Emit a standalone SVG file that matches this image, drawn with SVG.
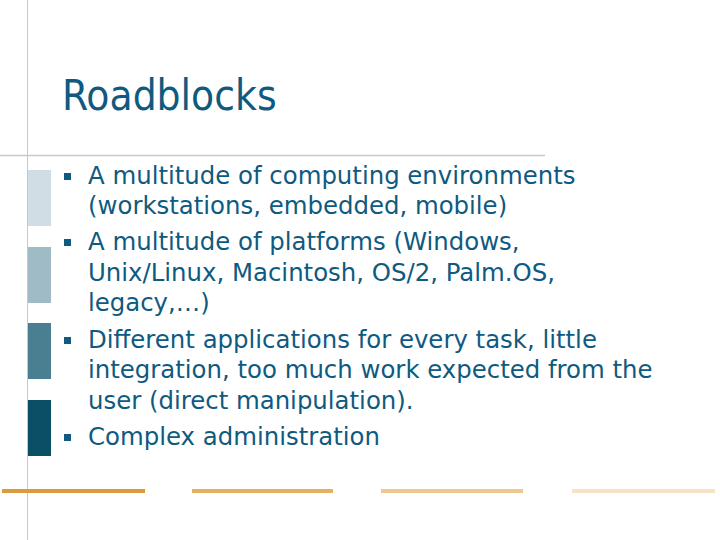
<svg xmlns="http://www.w3.org/2000/svg" width="720" height="540" viewBox="0 0 720 540">
<style>
.t{font-family:"DejaVu Sans","Liberation Sans",sans-serif;font-size:24.4px;fill:#0f5a80}
.b{fill:#0f5a80}
</style>
<rect width="720" height="540" fill="#fff"/>
<line x1="27.5" y1="0" x2="27.5" y2="540" stroke="#c8c8c8"/>
<line x1="0" y1="155.5" x2="545" y2="155.5" stroke="#c8c8c8" stroke-width="1.5"/>
<rect x="28" y="170" width="23" height="56" fill="#d0dde5"/>
<rect x="28" y="247" width="23" height="56" fill="#9fbcc6"/>
<rect x="28" y="323" width="23" height="56" fill="#4a7f92"/>
<rect x="28" y="400" width="23" height="56" fill="#0a4f66"/>
<g stroke-width="4">
<line x1="2" y1="491" x2="145" y2="491" stroke="#dd9a3c"/>
<line x1="192" y1="491" x2="333" y2="491" stroke="#e6b060"/>
<line x1="381" y1="491" x2="523" y2="491" stroke="#efc890"/>
<line x1="572" y1="491" x2="715" y2="491" stroke="#f6e2c4"/>
</g>
<text x="62" y="110" font-family="DejaVu Sans Condensed,Liberation Sans Narrow,sans-serif" font-size="42" fill="#0f5a80">Roadblocks</text>
<g class="b">
<rect x="64" y="173" width="7" height="7"/>
<rect x="64" y="239" width="7" height="7"/>
<rect x="64" y="337" width="7" height="7"/>
<rect x="64" y="434" width="7" height="7"/>
</g>
<g class="t">
<text x="88" y="184">A multitude of computing environments</text>
<text x="88" y="214">(workstations, embedded, mobile)</text>
<text x="88" y="250">A multitude of platforms (Windows,</text>
<text x="88" y="281">Unix/Linux, Macintosh, OS/2, Palm.OS,</text>
<text x="88" y="311">legacy,…)</text>
<text x="88" y="348">Different applications for every task, little</text>
<text x="88" y="378">integration, too much work expected from the</text>
<text x="88" y="409">user (direct manipulation).</text>
<text x="88" y="445">Complex administration</text>
</g>
</svg>
